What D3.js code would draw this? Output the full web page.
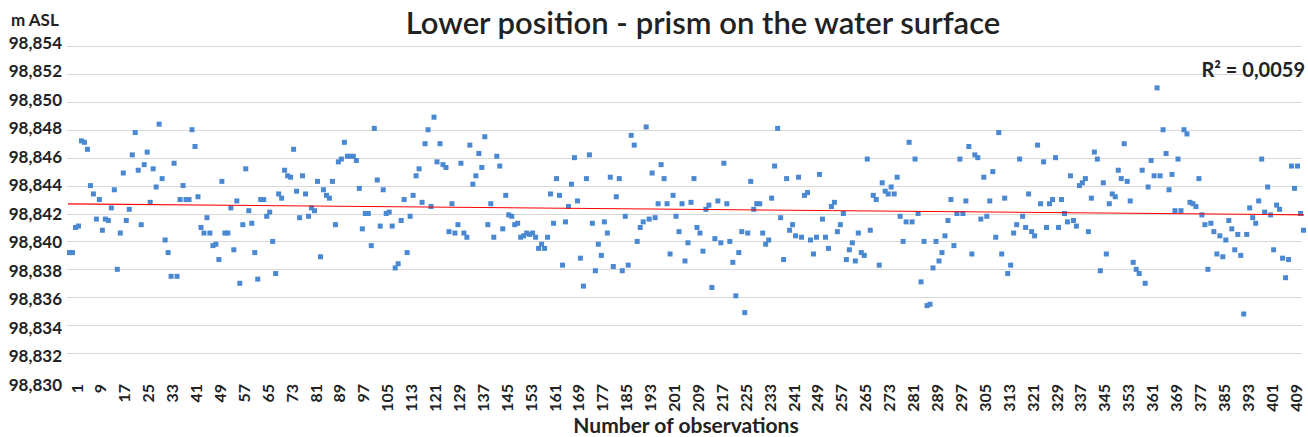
<!DOCTYPE html>
<html>
<head>
<meta charset="utf-8">
<title>Lower position - prism on the water surface</title>
<style>
body { margin: 0; background: #fff; }
svg { font-family: Lato, "Open Sans", sans-serif; }
.grid line { stroke: #d9d9d9; shape-rendering: crispEdges; }
.axis path, .axis line { display: none; }
.axis text { fill: #222; font-weight: bold; font-family: Lato, "Open Sans", sans-serif; }
.y.axis text { font-size: 17px; }
.x.axis text { font-size: 16px; }
.label { fill: #222; font-weight: bold; }
</style>
</head>
<body>
<script src="https://cdn.jsdelivr.net/npm/d3@7/dist/d3.min.js"></script>
<script>
var heights = [
  98.8392, 98.8392, 98.8410, 98.8411, 98.8472, 98.8471, 98.8466, 98.8440, 98.8434, 98.8416,
  98.8430, 98.8408, 98.8416, 98.8415, 98.8424, 98.8437, 98.8380, 98.8406, 98.8449, 98.8415,
  98.8423, 98.8462, 98.8478, 98.8451, 98.8412, 98.8455, 98.8464, 98.8428, 98.8452, 98.8439,
  98.8484, 98.8445, 98.8401, 98.8392, 98.8375, 98.8456, 98.8375, 98.8430, 98.8440, 98.8430,
  98.8430, 98.8480, 98.8468, 98.8432, 98.8410, 98.8406, 98.8417, 98.8406, 98.8397, 98.8398,
  98.8387, 98.8443, 98.8406, 98.8406, 98.8424, 98.8394, 98.8429, 98.8370, 98.8412, 98.8452,
  98.8422, 98.8413, 98.8392, 98.8373, 98.8430, 98.8430, 98.8418, 98.8421, 98.8400, 98.8377,
  98.8434, 98.8431, 98.8451, 98.8447, 98.8446, 98.8466, 98.8436, 98.8417, 98.8447, 98.8434,
  98.8418, 98.8424, 98.8422, 98.8443, 98.8389, 98.8437, 98.8433, 98.8431, 98.8443, 98.8412,
  98.8457, 98.8459, 98.8471, 98.8461, 98.8461, 98.8461, 98.8458, 98.8438, 98.8409, 98.8420,
  98.8420, 98.8397, 98.8481, 98.8444, 98.8411, 98.8437, 98.8420, 98.8421, 98.8411, 98.8381,
  98.8384, 98.8415, 98.8430, 98.8392, 98.8418, 98.8433, 98.8447, 98.8452, 98.8428, 98.8470,
  98.8480, 98.8425, 98.8489, 98.8457, 98.8470, 98.8455, 98.8453, 98.8407, 98.8427, 98.8406,
  98.8412, 98.8456, 98.8406, 98.8403, 98.8469, 98.8441, 98.8447, 98.8463, 98.8453, 98.8475,
  98.8412, 98.8427, 98.8403, 98.8461, 98.8454, 98.8409, 98.8433, 98.8419, 98.8418, 98.8412,
  98.8413, 98.8403, 98.8404, 98.8406, 98.8405, 98.8406, 98.8403, 98.8395, 98.8398, 98.8395,
  98.8403, 98.8434, 98.8413, 98.8445, 98.8433, 98.8383, 98.8414, 98.8425, 98.8441, 98.8460,
  98.8429, 98.8388, 98.8368, 98.8445, 98.8462, 98.8413, 98.8379, 98.8398, 98.8390, 98.8414,
  98.8406, 98.8446, 98.8382, 98.8432, 98.8445, 98.8379, 98.8418, 98.8383, 98.8476, 98.8469,
  98.8400, 98.8410, 98.8414, 98.8482, 98.8416, 98.8449, 98.8417, 98.8427, 98.8455, 98.8445,
  98.8427, 98.8391, 98.8433, 98.8418, 98.8407, 98.8427, 98.8386, 98.8399, 98.8428, 98.8445,
  98.8410, 98.8406, 98.8393, 98.8423, 98.8426, 98.8367, 98.8402, 98.8429, 98.8399, 98.8456,
  98.8427, 98.8400, 98.8385, 98.8361, 98.8392, 98.8407, 98.8349, 98.8406, 98.8443, 98.8423,
  98.8427, 98.8427, 98.8406, 98.8398, 98.8401, 98.8431, 98.8454, 98.8481, 98.8417, 98.8387,
  98.8445, 98.8408, 98.8412, 98.8404, 98.8446, 98.8403, 98.8433, 98.8435, 98.8401, 98.8391,
  98.8403, 98.8448, 98.8416, 98.8403, 98.8395, 98.8425, 98.8428, 98.8407, 98.8412, 98.8420,
  98.8387, 98.8394, 98.8399, 98.8386, 98.8406, 98.8392, 98.8390, 98.8459, 98.8408, 98.8433,
  98.8430, 98.8383, 98.8442, 98.8436, 98.8434, 98.8439, 98.8434, 98.8446, 98.8418, 98.8400,
  98.8414, 98.8471, 98.8414, 98.8459, 98.8420, 98.8371, 98.8400, 98.8354, 98.8355, 98.8381,
  98.8400, 98.8386, 98.8392, 98.8404, 98.8415, 98.8430, 98.8397, 98.8420, 98.8459, 98.8420,
  98.8429, 98.8468, 98.8391, 98.8462, 98.8460, 98.8416, 98.8446, 98.8418, 98.8429, 98.8450,
  98.8403, 98.8478, 98.8391, 98.8431, 98.8377, 98.8383, 98.8406, 98.8412, 98.8459, 98.8418,
  98.8410, 98.8434, 98.8407, 98.8404, 98.8469, 98.8427, 98.8457, 98.8410, 98.8427, 98.8430,
  98.8460, 98.8410, 98.8430, 98.8420, 98.8414, 98.8447, 98.8415, 98.8411, 98.8440, 98.8442,
  98.8445, 98.8407, 98.8431, 98.8464, 98.8459, 98.8379, 98.8442, 98.8391, 98.8427, 98.8434,
  98.8432, 98.8451, 98.8445, 98.8470, 98.8443, 98.8429, 98.8385, 98.8380, 98.8377, 98.8451,
  98.8370, 98.8439, 98.8458, 98.8447, 98.8510, 98.8447, 98.8480, 98.8463, 98.8437, 98.8448,
  98.8422, 98.8459, 98.8422, 98.8480, 98.8477, 98.8428, 98.8427, 98.8425, 98.8445, 98.8419,
  98.8412, 98.8380, 98.8413, 98.8407, 98.8391, 98.8404, 98.8389, 98.8401, 98.8415, 98.8409,
  98.8394, 98.8405, 98.8390, 98.8348, 98.8405, 98.8424, 98.8417, 98.8413, 98.8429, 98.8459,
  98.8421, 98.8439, 98.8419, 98.8394, 98.8426, 98.8423, 98.8388, 98.8374, 98.8387, 98.8454,
  98.8438, 98.8454, 98.8420, 98.8408
];

var xTicks = [1, 9, 17, 25, 33, 41, 49, 57, 65, 73, 81, 89, 97, 105, 113, 121, 129, 137, 145,
  153, 161, 169, 177, 185, 193, 201, 209, 217, 225, 233, 241, 249, 257, 265, 273, 281, 289,
  297, 305, 313, 321, 329, 337, 345, 353, 361, 369, 377, 385, 393, 401, 409];

var yTicks = [98.830, 98.832, 98.834, 98.836, 98.838, 98.840, 98.842, 98.844,
  98.846, 98.848, 98.850, 98.852, 98.854];

var title = "Lower position - prism on the water surface";
var yTitle = "m ASL";
var xTitle = "Number of observations";
var r2Label = "R² = 0,0059";

var width = 1308, height = 437;

var n = heights.length;

var x = d3.scaleLinear()
    .domain([1, n])
    .range([69.5, 1303.5]);

var y = d3.scaleLinear()
    .domain([98.830, 98.854])
    .range([381, 46]);

// tick labels sit a little more spread than the grid in the original
var yLab = d3.scaleLinear()
    .domain([98.830, 98.854])
    .range([385, 43]);

var comma = d3.formatLocale({decimal: ",", thousands: ".", grouping: [3], currency: ["", ""]});
var fmt = comma.format(".3f");

var svg = d3.select("body").append("svg")
    .attr("width", width)
    .attr("height", height);

svg.append("g")
    .attr("class", "grid")
  .selectAll("line")
    .data(yTicks.slice(1))
  .enter().append("line")
    .attr("x1", 67)
    .attr("x2", 1302)
    .attr("y1", function(d) { return Math.round(y(d)) + 0.5; })
    .attr("y2", function(d) { return Math.round(y(d)) + 0.5; });

svg.append("g")
    .attr("class", "y axis")
    .attr("transform", "translate(62,0)")
    .call(d3.axisLeft(yLab).tickValues(yTicks).tickFormat(fmt).tickSize(0).tickPadding(0));

var xAxis = svg.append("g")
    .attr("class", "x axis")
    .attr("transform", "translate(0,383)")
    .call(d3.axisBottom(x).tickValues(xTicks).tickSize(0));

xAxis.selectAll("text")
    .attr("transform", "rotate(-90)")
    .attr("x", -1)
    .attr("y", 0)
    .attr("dy", 12.5)
    .style("text-anchor", "end");

// points
svg.append("g").selectAll("rect")
    .data(heights)
  .enter().append("rect")
    .attr("x", function(d, i) { return x(i + 1) - 2.5; })
    .attr("y", function(d) { return y(d) - 2.5; })
    .attr("width", 5)
    .attr("height", 5)
    .style("fill", "#4a88d2");

// least squares trend line
var mx = d3.mean(heights, function(d, i) { return i + 1; }),
    my = d3.mean(heights);
var sxy = 0, sxx = 0;
heights.forEach(function(d, i) { sxy += (i + 1 - mx) * (d - my); sxx += (i + 1 - mx) * (i + 1 - mx); });
var slope = sxy / sxx, icpt = my - slope * mx;

svg.append("line")
    .attr("x1", x(0.5)).attr("y1", y(icpt + slope * 0.5))
    .attr("x2", x(n + 0.2)).attr("y2", y(icpt + slope * (n + 0.2)))
    .style("stroke", "#ff0000")
    .style("stroke-width", 1.2);

svg.append("text")
    .attr("x", 703)
    .attr("y", 34)
    .style("text-anchor", "middle")
    .style("font-size", "31px")
    .style("font-weight", "600")
    .style("fill", "#222")
    .text(title);

svg.append("text")
    .attr("class", "label")
    .attr("x", 11)
    .attr("y", 26)
    .style("font-size", "17px")
    .text(yTitle);

svg.append("text")
    .attr("class", "label")
    .attr("x", 686)
    .attr("y", 433)
    .style("text-anchor", "middle")
    .style("font-size", "21px")
    .text(xTitle);

svg.append("text")
    .attr("class", "label")
    .attr("x", 1305)
    .attr("y", 77)
    .style("text-anchor", "end")
    .style("font-size", "20px")
    .text(r2Label);
</script>
</body>
</html>
